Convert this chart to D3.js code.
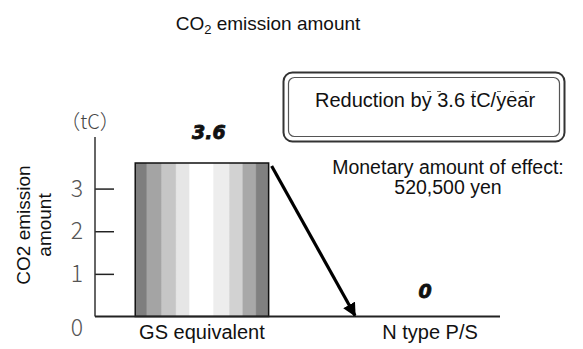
<!DOCTYPE html>
<html>
<head>
<meta charset="utf-8">
<script src="https://cdn.jsdelivr.net/npm/d3@7"></script>
<style>
  html, body { margin: 0; padding: 0; background: #fff; }
  svg { display: block; font-family: "Liberation Sans", Arial, sans-serif; }
</style>
</head>
<body>
<svg id="chart" width="583" height="349"></svg>
<script>
// Chart data
const categories = ["GS equivalent", "N type P/S"];
const emissions = [3.6, 0];
const valueLabels = ["3.6", "0"];
const yTicks = [0, 1, 2, 3];
const unitLabel = "（tC）";
const reductionText = "Reduction by 3.6 tC/year";
const effectLines = ["Monetary amount of effect:", "520,500 yen"];

const svg = d3.select("#chart");

// Layout
const axisX = 95, baseY = 316.5, topY = 137;

const x = d3.scaleBand()
  .domain(categories)
  .range([90, 540])
  .paddingInner(0.41)
  .paddingOuter(0.2);

const y = d3.scaleLinear()
  .domain([0, 3.6])
  .range([baseY, 163]);

// Bar gradient (cylindrical shading)
const defs = svg.append("defs");
const grad = defs.append("linearGradient").attr("id", "barShade")
  .attr("x1", "0%").attr("x2", "100%").attr("y1", "0%").attr("y2", "0%");
[[0, "#7e7e7e"], [0.08, "#7e7e7e"], [0.09, "#a4a4a4"], [0.19, "#a4a4a4"],
 [0.2, "#c6c6c6"], [0.3, "#c6c6c6"], [0.31, "#e6e6e6"], [0.4, "#e6e6e6"],
 [0.41, "#ffffff"], [0.58, "#ffffff"], [0.59, "#ededed"], [0.7, "#ededed"],
 [0.71, "#d2d2d2"], [0.8, "#d2d2d2"], [0.81, "#a8a8a8"], [0.9, "#a8a8a8"],
 [0.91, "#808080"], [1, "#808080"]].forEach(([o, c]) =>
  grad.append("stop").attr("offset", o).attr("stop-color", c));

// Title
const title = svg.append("text")
  .attr("x", 268).attr("y", 30)
  .attr("text-anchor", "middle")
  .attr("font-size", 19).attr("fill", "#111");
title.append("tspan").text("CO");
title.append("tspan").attr("font-size", 13).attr("dy", 4).text("2");
title.append("tspan").attr("dy", -4).text(" emission amount");

// Y axis (ticks pointing inward)
const yAxis = d3.axisRight(y)
  .tickValues(yTicks.filter(d => d > 0))
  .tickSize(19)
  .tickFormat("");
const ya = svg.append("g")
  .attr("transform", `translate(${axisX},0)`)
  .call(yAxis);
ya.select(".domain").remove();
ya.selectAll(".tick line").attr("stroke", "#222").attr("stroke-width", 1.5);

svg.append("line")
  .attr("x1", axisX).attr("x2", axisX)
  .attr("y1", topY).attr("y2", baseY)
  .attr("stroke", "#333").attr("stroke-width", 1.5);

// Tick labels
svg.selectAll(".ylab")
  .data(yTicks)
  .join("text")
  .attr("class", "ylab")
  .attr("x", 77)
  .attr("y", d => d === 0 ? baseY + 19 : y(d) + 8)
  .attr("text-anchor", "middle")
  .attr("font-size", 23)
  .attr("fill", "#555")
  .attr("font-family", "'Noto Sans CJK JP', 'DejaVu Sans', sans-serif")
  .attr("font-weight", 300)
  .text(d => d);

svg.append("text")
  .attr("x", 90).attr("y", 129)
  .attr("text-anchor", "middle")
  .attr("font-size", 20).attr("fill", "#444")
  .attr("font-family", "'Noto Sans CJK JP', 'DejaVu Sans', sans-serif")
  .attr("font-weight", 300)
  .text(unitLabel);

// Y axis title
const yt = svg.append("text")
  .attr("transform", "translate(0,225) rotate(-90)")
  .attr("text-anchor", "middle")
  .attr("font-size", 19).attr("fill", "#111");
yt.append("tspan").attr("x", 0).attr("y", 30).text("CO2 emission");
yt.append("tspan").attr("x", 0).attr("y", 51).text("amount");

// Bars
svg.selectAll(".bar")
  .data(emissions.map((v, i) => ({ cat: categories[i], v })).filter(d => d.v > 0))
  .join("rect")
  .attr("class", "bar")
  .attr("x", d => x(d.cat))
  .attr("width", x.bandwidth())
  .attr("y", d => y(d.v))
  .attr("height", d => y(0) - y(d.v))
  .attr("fill", "url(#barShade)")
  .attr("stroke", "#111")
  .attr("stroke-width", 1.5);

// Baseline
svg.append("line")
  .attr("x1", axisX).attr("x2", 500)
  .attr("y1", baseY).attr("y2", baseY)
  .attr("stroke", "#222").attr("stroke-width", 2);

// Value labels
svg.selectAll(".vlab")
  .data(emissions)
  .join("text")
  .attr("class", "vlab")
  .attr("x", (d, i) => x(categories[i]) + x.bandwidth() / 2 + (i === 0 ? 7 : -3))
  .attr("y", (d, i) => i === 0 ? 139 : y(d) - 19)
  .attr("text-anchor", "middle")
  .attr("font-family", "'DejaVu Sans', sans-serif")
  .attr("font-weight", "bold")
  .attr("font-style", "italic")
  .attr("font-size", 19)
  .attr("fill", "#111")
  .attr("stroke", "#111").attr("stroke-width", 0.8)
  .text((d, i) => valueLabels[i]);

// Category labels
svg.selectAll(".clab")
  .data(categories)
  .join("text")
  .attr("class", "clab")
  .attr("x", d => x(d) + x.bandwidth() / 2 + (d === categories[1] ? 2 : 0))
  .attr("y", 339)
  .attr("text-anchor", "middle")
  .attr("font-size", 20)
  .attr("fill", "#111")
  .text(d => d);

// Reduction arrow from the top of the first bar down to the baseline
defs.append("marker")
  .attr("id", "head")
  .attr("viewBox", "0 0 10 10")
  .attr("refX", 9).attr("refY", 5)
  .attr("markerWidth", 4.2).attr("markerHeight", 4.2)
  .attr("markerUnits", "strokeWidth")
  .attr("orient", "auto")
  .append("path").attr("d", "M0,0 L10,5 L0,10 Z").attr("fill", "#000");

const x0 = x(categories[0]) + x.bandwidth() + 3;
svg.append("line")
  .attr("x1", x0).attr("y1", y(emissions[0]) + 3)
  .attr("x2", 355).attr("y2", y(emissions[1]) - 1)
  .attr("stroke", "#000").attr("stroke-width", 3.2)
  .attr("marker-end", "url(#head)");

// Reduction box (double rounded frame)
svg.append("rect")
  .attr("x", 283.5).attr("y", 72.5).attr("width", 281).attr("height", 69)
  .attr("rx", 9).attr("fill", "#fff")
  .attr("stroke", "#333").attr("stroke-width", 2);
svg.append("rect")
  .attr("x", 288.5).attr("y", 77.5).attr("width", 271).attr("height", 59)
  .attr("rx", 6).attr("fill", "none")
  .attr("stroke", "#555").attr("stroke-width", 1.2);
svg.append("text")
  .attr("x", 425).attr("y", 107)
  .attr("text-anchor", "middle")
  .attr("font-size", 20).attr("fill", "#111")
  .text(reductionText);

// Small stray macron strokes printed above the box text
const macronXs = [427, 437, 472, 497, 510, 525];
svg.selectAll(".macron")
  .data(macronXs)
  .join("line")
  .attr("class", "macron")
  .attr("x1", d => d).attr("x2", d => d + 4)
  .attr("y1", 91.5).attr("y2", 91.5)
  .attr("stroke", "#666").attr("stroke-width", 1);

// Monetary effect note
svg.selectAll(".effect")
  .data(effectLines)
  .join("text")
  .attr("class", "effect")
  .attr("x", 448)
  .attr("y", (d, i) => 174 + i * 20)
  .attr("text-anchor", "middle")
  .attr("font-size", 19.5).attr("fill", "#111")
  .text(d => d);
</script>
</body>
</html>
